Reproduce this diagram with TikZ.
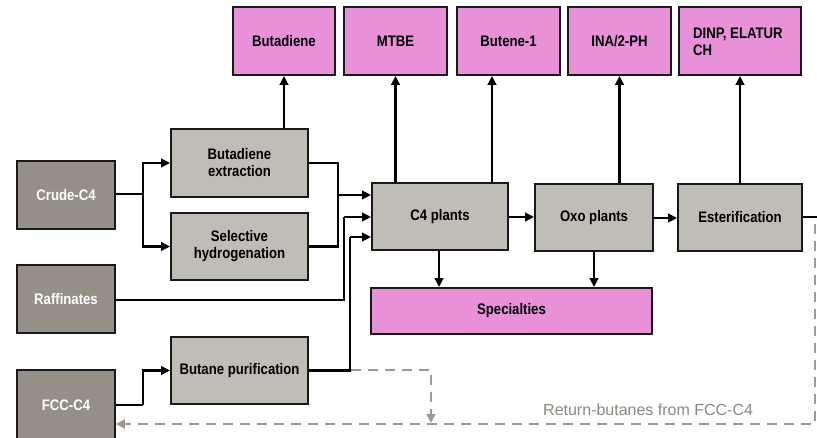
\documentclass[tikz,border=0pt]{standalone}
\usepackage{fontspec}
\setmainfont{Liberation Sans}
\newfontfamily\boxfont{Liberation Sans Bold}[FakeStretch=0.86]
\usetikzlibrary{arrows.meta}
\definecolor{darkbox}{HTML}{968F87}
\definecolor{lightbox}{HTML}{C0BCB6}
\definecolor{pinkbox}{HTML}{E890D8}
\definecolor{dashgray}{HTML}{A09890}
\definecolor{labelgray}{HTML}{8C8680}
\tikzset{
  box/.style={draw=black!90, line width=1.8pt, inner sep=0pt, align=center,
    font=\boxfont\fontsize{15.3}{17}\selectfont},
  srcbox/.style={box, fill=darkbox, text=white, minimum width=98pt, minimum height=68pt},
  procbox/.style={box, fill=lightbox, text=black},
  prodbox/.style={box, fill=pinkbox, text=black, minimum height=68pt},
  flow/.style={draw=black, line width=2.8pt},
  arr/.style={flow, -{Triangle[length=9pt,width=8.5pt]}},
  dashflow/.style={draw=dashgray, line width=2.8pt, dash pattern=on 10pt off 7pt},
  dasharr/.style={dashflow, -{Triangle[length=9pt,width=9pt]}},
}
\begin{document}
\begin{tikzpicture}[x=1pt,y=-1pt]
\useasboundingbox (0,0) rectangle (817,438);
\clip (0,0) rectangle (817,438);
% sources
\node[srcbox] (crude) at (66,195) {Crude-C4};
\node[srcbox] (raff) at (66,299) {Raffinates};
\node[srcbox, minimum height=70pt] (fcc) at (66,405) {FCC-C4};
% first processes
\node[procbox, minimum width=137pt, minimum height=68pt] (bde) at (239.5,163) {Butadiene\\extraction};
\node[procbox, minimum width=137pt, minimum height=67pt] (sh) at (239.5,246.5) {Selective\\hydrogenation};
\node[procbox, minimum width=137pt, minimum height=67pt] (bp) at (239.5,370.5) {Butane purification};
% main chain
\node[procbox, minimum width=136pt, minimum height=67pt] (c4) at (440,216.5) {C4 plants};
\node[procbox, minimum width=118pt, minimum height=67pt] (oxo) at (594,217.5) {Oxo plants};
\node[procbox, minimum width=124pt, minimum height=67pt] (est) at (740,217.5) {Esterification};
\node[prodbox, minimum width=281pt, minimum height=46pt] (spec) at (511.5,311) {Specialties};
% products
\node[prodbox, minimum width=102pt] (bd) at (284,41) {Butadiene};
\node[prodbox, minimum width=103pt] (mtbe) at (395.5,41) {MTBE};
\node[prodbox, minimum width=103pt] (b1) at (508.5,41) {Butene-1};
\node[prodbox, minimum width=103pt] (ina) at (619.5,41) {INA/2-PH};
\node[prodbox, minimum width=122pt] (dinp) at (740,41) {};
\node[font=\boxfont\fontsize{15.3}{17}\selectfont, align=left, anchor=north west, inner sep=0pt] (dinptxt) at (693,28) {DINP, ELATUR\\CH};
% crude split
\coordinate (j1) at (143,194);
\draw[flow] (crude.east |- j1) -- (j1);
\draw[arr] (j1) |- (bde.west);
\draw[arr] (j1) |- (sh.west);
% butadiene extraction + selective hydrogenation to C4
\coordinate (j2) at (338,195);
\draw[flow] (bde.east) -| (j2) |- (sh.east);
\draw[arr] (j2) -- (c4.west |- j2);
% raffinates
\coordinate (j3) at (344,217);
\draw[flow] (raff.east |- 0,300) -| (j3);
\draw[arr] (j3) -- (c4.west |- j3);
% butane purification
\coordinate (j4) at (350,237);
\draw[flow] (bp.east) -| (j4);
\draw[arr] (j4) -- (c4.west |- j4);
% FCC to butane purification
\coordinate (j5) at (143,405);
\draw[flow] (fcc.east |- j5) -- (j5);
\draw[arr] (j5) |- (bp.west);
% chain
\draw[arr] (c4.east |- 0,217) -- (oxo.west |- 0,217);
\draw[arr] (oxo.east |- 0,218) -- (est.west |- 0,218);
\coordinate (eout) at (817,217);
\draw[flow] (est.east |- eout) -- (eout);
% to specialties
\draw[arr] (c4.south -| 439,0) -- (spec.north -| 439,0);
\draw[arr] (oxo.south) -- (spec.north -| oxo.south);
% to products
\draw[arr] (bde.north -| bd.south) -- (bd.south);
\draw[arr] (c4.north -| mtbe.south) -- (mtbe.south);
\draw[arr] (c4.north -| 492,0) -- (b1.south -| 492,0);
\draw[arr] (oxo.north -| ina.south) -- (ina.south);
\draw[arr] (est.north) -- (dinp.south);
% dashed return lines
\coordinate (d1) at (351,370);
\coordinate (d2) at (431,370);
\coordinate (d3) at (431,423);
\draw[dasharr] (d1) -- (d2) -- (d3);
\coordinate (r1) at (815,224);
\coordinate (r2) at (815,424);
\draw[dasharr] (r1) -- (r2) -- (fcc.east |- r2);
\node[text=labelgray, font=\fontsize{16}{18}\selectfont, anchor=base west, inner sep=0pt] (lbl) at (543,416) {Return-butanes from FCC-C4};
\end{tikzpicture}
\end{document}
